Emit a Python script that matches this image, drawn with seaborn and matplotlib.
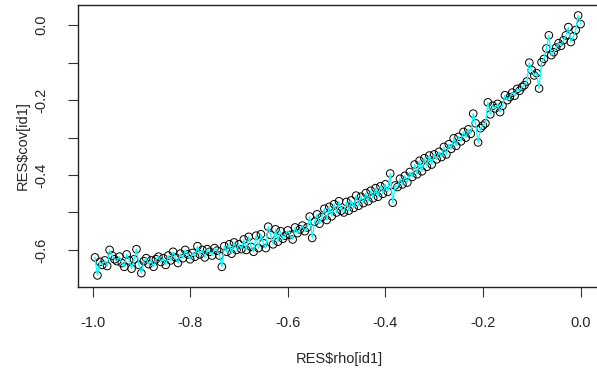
import numpy as np
import pandas as pd
import matplotlib
matplotlib.use("Agg")
import matplotlib.pyplot as plt
import seaborn as sns

rho = np.round(np.arange(-0.995, 0.0001, 0.005), 3)

cov = [
    -0.620, -0.668, -0.632, -0.640, -0.628, -0.643, -0.600, -0.615, -0.625, -0.630,
    -0.618, -0.635, -0.645, -0.612, -0.628, -0.650, -0.625, -0.598, -0.640, -0.662,
    -0.630, -0.622, -0.638, -0.628, -0.645, -0.625, -0.618, -0.632, -0.622, -0.640,
    -0.615, -0.628, -0.605, -0.620, -0.635, -0.610, -0.622, -0.600, -0.612, -0.625,
    -0.608, -0.618, -0.590, -0.612, -0.600, -0.620, -0.598, -0.605, -0.615, -0.595,
    -0.602, -0.615, -0.645, -0.590, -0.605, -0.585, -0.610, -0.580, -0.600, -0.585,
    -0.598, -0.572, -0.600, -0.565, -0.592, -0.605, -0.562, -0.595, -0.558, -0.582,
    -0.595, -0.538, -0.560, -0.585, -0.545, -0.578, -0.550, -0.570, -0.562, -0.548,
    -0.560, -0.572, -0.540, -0.555, -0.545, -0.535, -0.550, -0.540, -0.511, -0.568,
    -0.525, -0.505, -0.530, -0.512, -0.490, -0.520, -0.485, -0.510, -0.478, -0.500,
    -0.470, -0.495, -0.500, -0.472, -0.495, -0.468, -0.488, -0.455, -0.482, -0.458,
    -0.475, -0.448, -0.470, -0.442, -0.462, -0.435, -0.458, -0.430, -0.450, -0.425,
    -0.445, -0.396, -0.474, -0.428, -0.432, -0.410, -0.425, -0.402, -0.420, -0.392,
    -0.405, -0.372, -0.398, -0.362, -0.390, -0.355, -0.378, -0.348, -0.372, -0.345,
    -0.358, -0.338, -0.352, -0.325, -0.345, -0.318, -0.330, -0.302, -0.322, -0.298,
    -0.310, -0.285, -0.300, -0.278, -0.290, -0.236, -0.262, -0.313, -0.275, -0.268,
    -0.262, -0.206, -0.238, -0.215, -0.222, -0.210, -0.232, -0.215, -0.187, -0.200,
    -0.192, -0.180, -0.188, -0.170, -0.175, -0.165, -0.160, -0.150, -0.100, -0.120,
    -0.134, -0.128, -0.169, -0.099, -0.090, -0.062, -0.027, -0.080, -0.072, -0.060,
    -0.048, -0.055, -0.040, -0.027, -0.005, -0.045, -0.030, -0.013, 0.026, 0.003,
]

xticks = [-1.0, -0.8, -0.6, -0.4, -0.2, 0.0]
xticklabels = ["-1.0", "-0.8", "-0.6", "-0.4", "-0.2", "0.0"]
yticks = [-0.6, -0.5, -0.4, -0.3, -0.2, -0.1, 0.0]
yticklabels = ["-0.6", "", "-0.4", "", "-0.2", "", "0.0"]

df = pd.DataFrame({"rho": rho, "cov": cov})

sns.set_style("white")
plt.rcParams["font.family"] = ["Liberation Sans", "DejaVu Sans"]

fig = plt.figure(figsize=(5.97, 3.81), dpi=100)
ax = fig.add_axes([78 / 597, 1 - 287 / 381, (600 - 78) / 597, (287 - 5) / 381])

sns.scatterplot(data=df, x="rho", y="cov", ax=ax, marker="o", s=30,
                facecolor="none", edgecolor="black", linewidth=0.7, zorder=2)
sns.lineplot(data=df, x="rho", y="cov", ax=ax, color="cyan", linewidth=0.9,
             zorder=3, sort=False)

ax.set_xlim(-1.0298, 0.0398)
ax.set_ylim(-0.699, 0.054)
ax.set_xticks(xticks)
ax.set_xticklabels(xticklabels)
ax.set_yticks(yticks)
ax.set_yticklabels(yticklabels, rotation=90, va="center")
ax.tick_params(axis="both", direction="out", length=7, width=0.8, color="#333333",
               labelsize=10.5, pad=14, bottom=True, left=True)
for s in ax.spines.values():
    s.set_color("#222222")
    s.set_linewidth(1.0)
ax.set_xlabel("RES$rho[id1]", fontsize=10.5, labelpad=16)
ax.set_ylabel("RES$cov[id1]", fontsize=10.5, labelpad=4)

fig.savefig("out.png", dpi=100)
